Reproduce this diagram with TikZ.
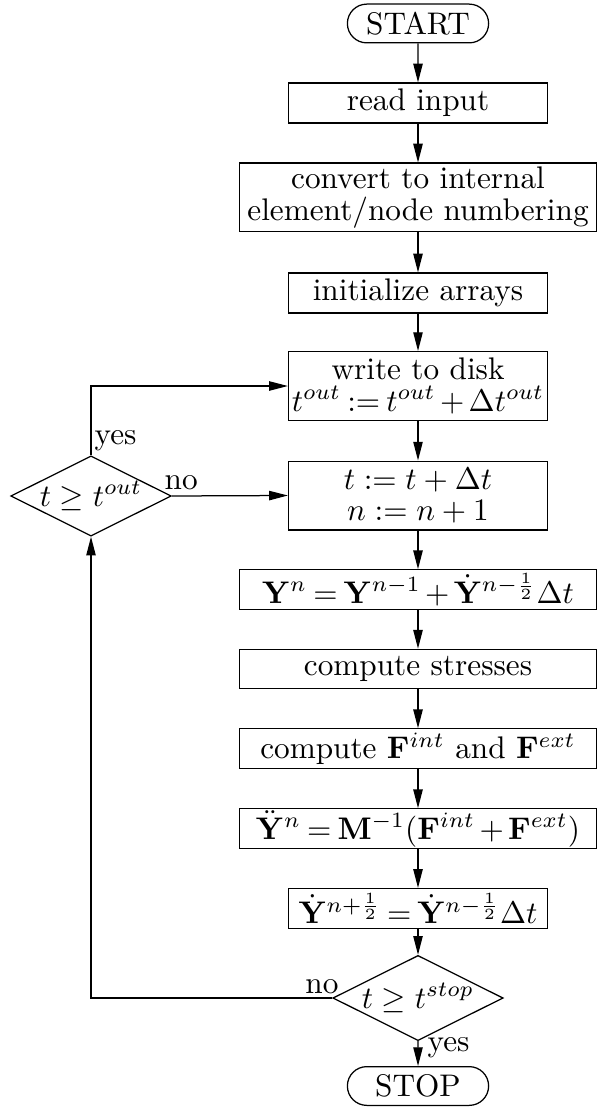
\documentclass[tikz,border=0pt]{standalone}
\usetikzlibrary{shapes.geometric,shapes.misc,arrows.meta}
\begin{document}
\begin{tikzpicture}[x=0.32pt,y=-0.32pt,
  every node/.style={inner sep=0pt, align=center},
  flow/.style={draw, line width=0.4pt},
  tight/.style={execute at begin node={\thickmuskip=3.5mu\medmuskip=2.5mu}},
  narrowbox/.style={flow, rectangle, minimum width=82.9pt, minimum height=12.8pt},
  narrowtwo/.style={narrowbox, minimum height=22pt},
  widebox/.style={flow, rectangle, minimum width=114.2pt, minimum height=12.6pt},
  widetwo/.style={widebox, minimum height=22pt},
  term/.style={flow, rounded rectangle, minimum width=45.2pt, minimum height=12.4pt},
  decision/.style={flow, diamond, aspect=2, minimum width=50.6pt, minimum height=25pt},
  conn/.style={draw, line width=0.4pt, -{Triangle[length=6pt,width=3pt]}},
  lbl/.style={inner sep=0pt}
]
\path (0,0) rectangle (597,1109);
\node[term] (start) at (418,23.5) {START};
\node[narrowbox] (read) at (418,103) {read input};
\node[widetwo] (conv) at (418,197.5) {convert to internal\\[-2pt]element/node numbering};
\node[narrowbox] (init) at (418,293) {initialize arrays};
\node[narrowtwo, tight] (write) at (418,386) {write to disk\\[-2pt]$t^{out}:=t^{out}+\Delta t^{out}$};
\node[narrowtwo] (tinc) at (418,495.5) {$t:=t+\Delta t$\\[-2pt]$n:=n+1$};
\node[widebox, tight] (yn) at (418,589.5) {$\mathbf{Y}^n=\mathbf{Y}^{n-1}+\dot{\mathbf{Y}}^{n-\frac{1}{2}}\Delta t$};
\node[widebox] (stress) at (418,669) {compute stresses};
\node[widebox] (force) at (418,748.5) {compute $\mathbf{F}^{int}$ and $\mathbf{F}^{ext}$};
\node[widebox, tight] (acc) at (418,828.5) {$\ddot{\mathbf{Y}}^n=\mathbf{M}^{-1}(\mathbf{F}^{int}+\mathbf{F}^{ext})$};
\node[narrowbox, tight] (vel) at (418,908.5) {$\dot{\mathbf{Y}}^{n+\frac{1}{2}}=\dot{\mathbf{Y}}^{n-\frac{1}{2}}\Delta t$};
\node[decision] (dstop) at (418,998) {$t\geq t^{stop}$};
\node[term] (stop) at (418,1086) {STOP};
\node[decision] (dout) at (91,496) {$t\geq t^{out}$};

\draw[conn] (start) -- (read);
\draw[conn] (read) -- (conv);
\draw[conn] (conv) -- (init);
\draw[conn] (init) -- (write);
\draw[conn] (write) -- (tinc);
\draw[conn] (tinc) -- (yn);
\draw[conn] (yn) -- (stress);
\draw[conn] (stress) -- (force);
\draw[conn] (force) -- (acc);
\draw[conn] (acc) -- (vel);
\draw[conn] (vel) -- (dstop);
\draw[conn] (dstop) -- (stop);
\draw[conn] (dstop.west) -| (dout.south);
\draw[conn] (dout.east) -- (tinc.west);
\draw[conn] (dout.north) |- (write.west);

\node[lbl, anchor=south west] (yesout) at (94,452) {yes};
\node[lbl, anchor=south west] (noout) at (164,490) {no};
\node[lbl, anchor=south east] (nostop) at (339,994) {no};
\node[lbl, anchor=north west] (yesstop) at (427,1037) {yes};
\end{tikzpicture}
\end{document}
